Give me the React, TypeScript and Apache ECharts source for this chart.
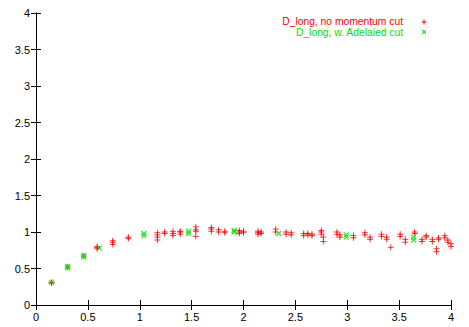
import React, { useEffect, useRef } from "react";
import * as echarts from "echarts";

const xTicks = [0, 0.5, 1, 1.5, 2, 2.5, 3, 3.5, 4];
const yTicks = [0, 0.5, 1, 1.5, 2, 2.5, 3, 3.5, 4];

const redName = "D_long, no momentum cut";
const greenName = "D_long, w. Adelaied cut";

// red: no momentum cut (x, y)
const redX = [
  0.15, 0.15, 0.305, 0.46,
  0.59, 0.59, 0.59,
  0.74, 0.74, 0.74,
  0.89, 0.89,
  1.17, 1.17, 1.17, 1.17,
  1.24, 1.24,
  1.32, 1.32, 1.32,
  1.39, 1.39, 1.39,
  1.54, 1.54, 1.54, 1.54,
  1.69, 1.69, 1.69,
  1.76, 1.76,
  1.82, 1.82,
  1.96, 1.96, 1.96,
  2.0, 2.0,
  2.14, 2.14, 2.14,
  2.17, 2.17,
  2.31, 2.31,
  2.41, 2.41,
  2.46, 2.46,
  2.58, 2.58,
  2.62, 2.62,
  2.66, 2.66,
  2.75, 2.75, 2.75,
  2.77, 2.77,
  2.9, 2.9,
  2.93, 2.93,
  3.06, 3.06,
  3.17, 3.17,
  3.22, 3.22,
  3.33, 3.33,
  3.38, 3.38,
  3.42,
  3.51, 3.51,
  3.56, 3.56,
  3.65, 3.65,
  3.72, 3.72,
  3.76, 3.76,
  3.82, 3.82,
  3.86, 3.86,
  3.88, 3.88,
  3.94, 3.94,
  3.97, 3.97,
  4.0, 4.0,
];
const redY = [
  0.31, 0.3, 0.52, 0.67,
  0.77, 0.79, 0.8,
  0.83, 0.86, 0.88,
  0.91, 0.93,
  0.89, 0.93, 0.96, 0.99,
  0.98, 1.0,
  0.95, 0.98, 1.01,
  0.97, 1.0, 1.01,
  0.94, 1.01, 1.03, 1.07,
  1.01, 1.04, 1.06,
  1.0, 1.03,
  0.99, 1.01,
  0.98, 1.0, 1.02,
  0.99, 1.01,
  0.97, 0.99, 1.01,
  0.98, 1.0,
  1.0, 1.04,
  0.97, 1.0,
  0.96, 0.99,
  0.95, 0.98,
  0.96, 0.98,
  0.95, 0.97,
  0.97, 1.0, 1.02,
  0.87, 0.93,
  0.97, 1.0,
  0.93, 0.96,
  0.92, 0.95,
  0.96, 0.99,
  0.9, 0.93,
  0.94, 0.97,
  0.9, 0.93,
  0.79,
  0.94, 0.97,
  0.86, 0.9,
  0.98, 1.0,
  0.87, 0.9,
  0.93, 0.95,
  0.87, 0.9,
  0.73, 0.77,
  0.9, 0.92,
  0.92, 0.95,
  0.86, 0.89,
  0.8, 0.84,
];

// green: with Adelaide cut
const greenX = [0.15, 0.305, 0.305, 0.46, 0.46, 0.61, 1.04, 1.04, 1.47, 1.47, 1.91, 1.91, 2.34, 2.99, 2.99, 3.64, 3.64];
const greenY = [0.31, 0.51, 0.53, 0.66, 0.68, 0.78, 0.95, 0.98, 0.98, 1.01, 1.0, 1.02, 0.98, 0.93, 0.96, 0.89, 0.93];

const RED = "#ff0000";
const GREEN = "#00e000";
const PLUS = "path://M0,5L10,5M5,0L5,10";
const CROSS = "path://M0,0L10,10M10,0L0,10";
const FONT = "Liberation Sans";

export default function App() {
  const ref = useRef<HTMLDivElement>(null);
  useEffect(() => {
    if (!ref.current) return;
    const chart = echarts.init(ref.current, null, { renderer: "svg" });
    const axisCommon = {
      type: "value" as const,
      min: 0,
      max: 4,
      interval: 0.5,
      axisLine: { show: true, lineStyle: { color: "#000", width: 1 } },
      axisTick: { show: true, inside: true, length: 5, lineStyle: { color: "#000" } },
      splitLine: { show: false },
    };
    const labelStyle = {
      color: "#000",
      fontFamily: FONT,
      fontSize: 11,
      formatter: (v: number) => String(v),
    };
    chart.setOption({
      animation: false,
      backgroundColor: "#fff",
      grid: { left: 36, right: 18, top: 13, bottom: 22, containLabel: false },
      xAxis: [
        { ...axisCommon, position: "bottom", axisLabel: { ...labelStyle, margin: 6 } },
        { ...axisCommon, position: "top", axisLabel: { show: false } },
      ],
      yAxis: [
        { ...axisCommon, position: "left", axisLabel: { ...labelStyle, margin: 6 } },
        { ...axisCommon, position: "right", axisLabel: { show: false } },
      ],
      series: [
        {
          name: redName,
          type: "scatter",
          symbol: PLUS,
          symbolSize: 6,
          itemStyle: { color: "none", borderColor: RED, borderWidth: 1 },
          data: redX.map((x, i) => [x, redY[i]]),
        },
        {
          name: greenName,
          type: "scatter",
          symbol: CROSS,
          symbolSize: 5,
          itemStyle: { color: "none", borderColor: GREEN, borderWidth: 1.2 },
          data: greenX.map((x, i) => [x, greenY[i]]),
        },
      ],
      graphic: [
        {
          type: "text",
          x: 403,
          y: 21.5,
          style: { text: redName, fill: RED, font: `10.3px ${FONT}`, textAlign: "right", textVerticalAlign: "middle" },
        },
        {
          type: "text",
          x: 403,
          y: 32,
          style: { text: greenName, fill: GREEN, font: `10.3px ${FONT}`, textAlign: "right", textVerticalAlign: "middle" },
        },
        { type: "line", shape: { x1: 421.5, y1: 22, x2: 426.5, y2: 22 }, style: { stroke: RED, lineWidth: 1 } },
        { type: "line", shape: { x1: 424, y1: 19.5, x2: 424, y2: 24.5 }, style: { stroke: RED, lineWidth: 1 } },
        { type: "line", shape: { x1: 422, y1: 30, x2: 426, y2: 34 }, style: { stroke: GREEN, lineWidth: 1 } },
        { type: "line", shape: { x1: 426, y1: 30, x2: 422, y2: 34 }, style: { stroke: GREEN, lineWidth: 1 } },
      ],
    });
    return () => chart.dispose();
  }, []);
  return <div ref={ref} style={{ width: 469, height: 327, position: "fixed", left: 0, top: 0 }} />;
}
